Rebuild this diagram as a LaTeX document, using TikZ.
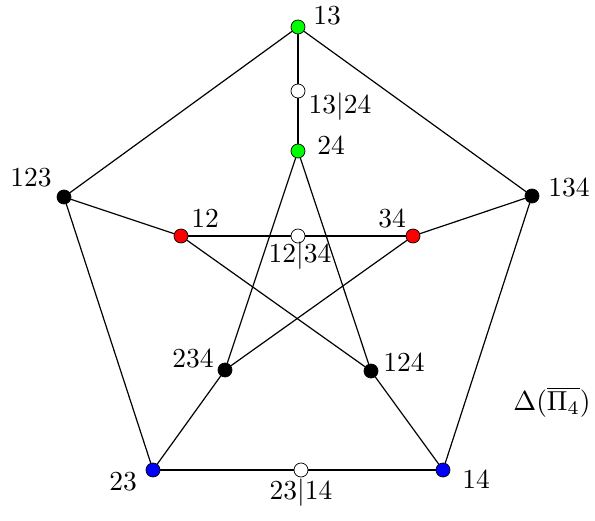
\documentclass[tikz,border=0pt]{standalone}
\usetikzlibrary{calc}
\begin{document}
\begin{tikzpicture}[x=1pt,y=-1pt,
  vtx/.style={circle,draw=black,line width=0.7pt,inner sep=0pt,minimum size=14pt},
  blk/.style={vtx,fill=black},
  redv/.style={vtx,fill=red},
  grn/.style={vtx,fill=green},
  blu/.style={vtx,fill=blue},
  wht/.style={vtx,fill=white},
  lab/.style={scale=2.75,inner sep=0pt},
  edge/.style={line width=1.2pt}]
\useasboundingbox (0,0) rectangle (595,521);
% vertices
\node[grn] (v13) at (298,27) {};
\node[blk] (v123) at (64,197) {};
\node[blk] (v134) at (532,196) {};
\node[blu] (v23) at (153,470) {};
\node[blu] (v14) at (443,470) {};
\node[grn] (v24) at (298,151) {};
\node[redv] (v12) at (181,236) {};
\node[redv] (v34) at (413,236) {};
\node[blk] (v234) at (225,370) {};
\node[blk] (v124) at (371,371) {};
\node[wht] (w1) at (298,91) {};
\node[wht] (w2) at (298,236) {};
\node[wht] (w3) at (301,470) {};
% edges
\draw[edge] (v13) -- (v123);
\draw[edge] (v13) -- (v134);
\draw[edge] (v13) -- (w1);
\draw[edge] (w1) -- (v24);
\draw[edge] (v123) -- (v23);
\draw[edge] (v134) -- (v14);
\draw[edge] (v23) -- (w3);
\draw[edge] (w3) -- (v14);
\draw[edge] (v123) -- (v12);
\draw[edge] (v134) -- (v34);
\draw[edge] (v12) -- (w2);
\draw[edge] (w2) -- (v34);
\draw[edge] (v24) -- (v234);
\draw[edge] (v24) -- (v124);
\draw[edge] (v12) -- (v124);
\draw[edge] (v34) -- (v234);
\draw[edge] (v234) -- (v23);
\draw[edge] (v124) -- (v14);
% labels
\node[lab] (l13) at (327,16) {13};
\node[lab] (l1324) at (340,107) {13$|$24};
\node[lab] (l24) at (331,145) {24};
\node[lab] (l123) at (31,178) {123};
\node[lab] (l134) at (569,187) {134};
\node[lab] (l12) at (205,218) {12};
\node[lab] (l34) at (392,218) {34};
\node[lab] (l1234) at (300,256) {12$|$34};
\node[lab] (l234) at (193,358) {234};
\node[lab] (l124) at (404,362) {124};
\node[lab] (l23) at (123,482) {23};
\node[lab] (l14) at (476,479) {14};
\node[lab] (l2314) at (301,493) {23$|$14};
\node[lab] (title) at (552,402) {$\Delta(\overline{\Pi_4})$};
\end{tikzpicture}
\end{document}
